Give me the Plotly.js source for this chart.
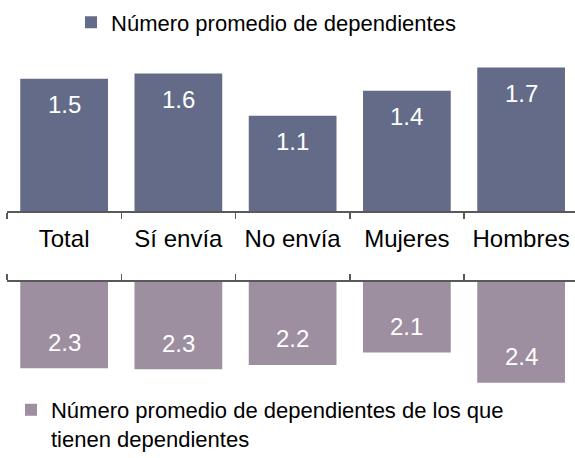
<!DOCTYPE html>
<html>
<head>
<meta charset="utf-8">
<script src="https://cdn.plot.ly/plotly-3.0.1.min.js"></script>
<style>html,body{margin:0;padding:0;background:#fff;}#chart{width:575px;height:458px;}</style>
</head>
<body>
<div id="chart"></div>
<script>
var categories = ["Total", "Sí envía", "No envía", "Mujeres", "Hombres"];
var promedio = [1.53, 1.59, 1.10, 1.39, 1.66];
var promedioConDep = [2.27, 2.28, 2.24, 2.13, 2.40];
var seriesNames = ["Número promedio de dependientes", "Número promedio de dependientes de los que<br>tienen dependientes"];

var colTop = "#636b88";
var colBot = "#9d8ea0";
var font = "Liberation Sans, Arial, sans-serif";
var baseBot = 1.5;

var traces = [
  {type: "bar", x: categories, y: promedio, name: seriesNames[0], marker: {color: colTop},
   xaxis: "x", yaxis: "y", legend: "legend", hoverinfo: "none"},
  {type: "bar", x: categories, y: promedioConDep.map(function(v){return v - baseBot;}), base: baseBot,
   name: seriesNames[1], marker: {color: colBot},
   xaxis: "x2", yaxis: "y2", legend: "legend2", hoverinfo: "none"}
];

var annotations = [];
categories.forEach(function(c, i){
  annotations.push({x: c, y: promedio[i], xref: "x", yref: "y", text: promedio[i].toFixed(1),
    showarrow: false, yanchor: "middle", yshift: -26, font: {family: font, size: 24, color: "#ffffff"}});
  annotations.push({x: c, y: promedioConDep[i], xref: "x2", yref: "y2", text: promedioConDep[i].toFixed(1),
    showarrow: false, yanchor: "middle", yshift: 26, font: {family: font, size: 24, color: "#ffffff"}});
});

var xr = [-0.5, 4.4716];
var layout = {
  width: 575, height: 458,
  margin: {l: 7, r: 0, t: 0, b: 0, autoexpand: false},
  paper_bgcolor: "#ffffff", plot_bgcolor: "#ffffff",
  font: {family: font, size: 24, color: "#000000"},
  bargap: 0.232,
  showlegend: true,
  xaxis: {domain: [0, 1], range: xr, anchor: "y", type: "category", showline: true, linecolor: "#595959", linewidth: 1.5,
    ticks: "outside", tickson: "boundaries", ticklen: 6, tickcolor: "#595959", tickwidth: 1.5,
    showgrid: false, zeroline: false, tickfont: {family: font, size: 24, color: "#000"}, ticklabelstandoff: 6,
    automargin: false},
  yaxis: {domain: [0.5393, 0.869], range: [0, 1.7457], visible: false, fixedrange: true},
  xaxis2: {domain: [0, 1], range: xr, anchor: "y2", type: "category", side: "top", showline: true, linecolor: "#595959", linewidth: 1.5,
    ticks: "outside", tickson: "boundaries", ticklen: 6, tickcolor: "#595959", tickwidth: 1.5,
    showgrid: false, zeroline: false, showticklabels: false, automargin: false},
  yaxis2: {domain: [0.13755, 0.38428], range: [baseBot + 1.0089, baseBot], visible: false, fixedrange: true},
  legend: {xref: "container", yref: "container", x: 0.1235, y: 0.997, xanchor: "left", yanchor: "top", bgcolor: "rgba(0,0,0,0)",
    font: {family: font, size: 22, color: "#000"}, itemwidth: 30},
  legend2: {xref: "container", yref: "container", x: 0.0191, y: 0.1507, xanchor: "left", yanchor: "top", bgcolor: "rgba(0,0,0,0)", valign: "top",
    font: {family: font, size: 22, color: "#000"}, itemwidth: 30},
  annotations: annotations
};

Plotly.newPlot("chart", traces, layout, {displayModeBar: false, staticPlot: true});
</script>
</body>
</html>
